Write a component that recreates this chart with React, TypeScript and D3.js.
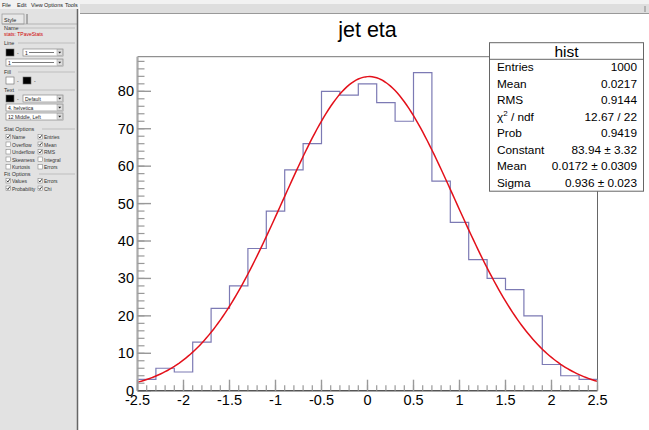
import React, { useEffect, useRef } from 'react';
import * as d3 from 'd3';

// histogram "hist" : jet eta, 25 bins in [-2.5, 2.5]
const binLow = -2.5;
const binHigh = 2.5;
const counts = [3, 6, 5, 13, 22, 28, 38, 48, 59, 66, 80, 79, 82, 77, 72, 85, 56, 45, 35, 30, 27, 20, 7, 4, 3];
const yTop = 89.25;

const xMajor = [-2.5, -2, -1.5, -1, -0.5, 0, 0.5, 1, 1.5, 2, 2.5];
const xLabels = ['-2.5', '-2', '-1.5', '-1', '-0.5', '0', '0.5', '1', '1.5', '2', '2.5'];
const yMajor = [0, 10, 20, 30, 40, 50, 60, 70, 80];

// gaus fit result
const fitConstant = 83.94;
const fitMean = 0.0172;
const fitSigma = 0.936;

const statLabels = ['Entries', 'Mean', 'RMS', 'chi2', 'Prob', 'Constant', 'Mean', 'Sigma'];
const statValues = ['1000', '0.0217', '0.9144', '12.67 / 22', '0.9419', '83.94 \u00b1 3.32', '0.0172 \u00b1 0.0309', '0.936 \u00b1 0.023'];

// editor side panel
const menuItems = [['File', 2], ['Edit', 17], ['View', 31], ['Options', 44], ['Tools', 65]];
const statChecks = [
  ['Name', true, 'Entries', true],
  ['Overflow', false, 'Mean', true],
  ['Underflow', false, 'RMS', true],
  ['Skewness', false, 'Integral', false],
  ['Kurtosis', false, 'Errors', false],
];
const fitChecks = [
  ['Values', true, 'Errors', true],
  ['Probability', true, 'Chi', true],
];

const font = 'Liberation Sans, Arial, Helvetica, sans-serif';

function SidePanel() {
  const grp = (label: string, y: number) => (
    <g key={label}>
      <text x={4} y={y} fontSize={5.5} fill="#333">{label}</text>
      <line x1={6 + label.length * 3} x2={75} y1={y - 2} y2={y - 2} stroke="#aaa" strokeWidth={0.6} />
    </g>
  );
  const combo = (x: number, y: number, w: number, label: string, dash: boolean) => (
    <g>
      <rect x={x} y={y} width={w} height={7} fill="#fff" stroke="#777" strokeWidth={0.6} />
      <text x={x + 2} y={y + 5.5} fontSize={5} fill="#222">{label}</text>
      {dash && <line x1={x + 6} x2={x + w - 9} y1={y + 3.5} y2={y + 3.5} stroke="#222" strokeWidth={0.6} />}
      <rect x={x + w - 6} y={y + 0.5} width={5.5} height={6} fill="#ddd" stroke="#888" strokeWidth={0.4} />
      <path d={`M${x + w - 4.8},${y + 2.8} L${x + w - 1.8},${y + 2.8} L${x + w - 3.3},${y + 4.6} Z`} fill="#222" />
    </g>
  );
  const swatch = (x: number, y: number, c: string) => (
    <rect x={x} y={y} width={8} height={7} fill={c} stroke="#666" strokeWidth={0.6} />
  );
  const check = (x: number, y: number, label: string, on: boolean) => (
    <g key={label + y}>
      <rect x={x} y={y - 4.5} width={4.5} height={4.5} fill="#fff" stroke="#777" strokeWidth={0.5} />
      {on && <path d={`M${x + 0.8},${y - 2.3} L${x + 1.9},${y - 1} L${x + 3.8},${y - 3.8}`} fill="none" stroke="#111" strokeWidth={0.8} />}
      <text x={x + 6} y={y} fontSize={5} fill="#333">{label}</text>
    </g>
  );
  return (
    <g fontFamily={font}>
      <rect x={0} y={0} width={78} height={430} fill="#e2e2e2" />
      <rect x={0} y={0} width={649} height={9} fill="#f2f2f2" />
      {menuItems.map(([t, x]) => (
        <text key={t as string} x={x as number} y={6.5} fontSize={5.5} fill="#222">{t}</text>
      ))}
      <rect x={2} y={14} width={22} height={10} fill="#e8e8e8" stroke="#888" strokeWidth={0.6} />
      <text x={4} y={21.5} fontSize={5.5} fill="#222">Style</text>
      <line x1={27} x2={27} y1={14} y2={24} stroke="#555" strokeWidth={0.8} />
      <line x1={2} x2={77} y1={24} y2={24} stroke="#999" strokeWidth={0.6} />
      {grp('Name', 30)}
      <text x={4} y={36} fontSize={5} fill="#d00000">stats: TPaveStats</text>
      {grp('Line', 45)}
      {swatch(6, 49, '#000')}
      <text x={17} y={55} fontSize={5} fill="#222">-</text>
      {combo(23, 49, 40, '1', true)}
      {combo(6, 59, 57, '1', true)}
      {grp('Fill', 74)}
      {swatch(6, 77, '#fff')}
      <text x={17} y={83} fontSize={5} fill="#222">-</text>
      {swatch(23, 77, '#000')}
      <text x={34} y={83} fontSize={5} fill="#222">-</text>
      {grp('Text', 92)}
      {swatch(6, 95, '#000')}
      <text x={17} y={101} fontSize={5} fill="#222">-</text>
      {combo(23, 95, 40, 'Default', false)}
      {combo(6, 104, 57, '4. helvetica', false)}
      {combo(6, 113, 57, '12 Middle, Left', false)}
      {grp('Stat Options', 131)}
      {statChecks.map((r, i) => (
        <g key={'s' + i}>
          {check(6, 139 + i * 7.5, r[0] as string, r[1] as boolean)}
          {check(38, 139 + i * 7.5, r[2] as string, r[3] as boolean)}
        </g>
      ))}
      {grp('Fit Options', 176)}
      {fitChecks.map((r, i) => (
        <g key={'f' + i}>
          {check(6, 183 + i * 7.5, r[0] as string, r[1] as boolean)}
          {check(38, 183 + i * 7.5, r[2] as string, r[3] as boolean)}
        </g>
      ))}
      <line x1={77.5} x2={77.5} y1={9} y2={430} stroke="#666" strokeWidth={1.5} />
      <rect x={80} y={4} width={569} height={9} fill="#dedede" />
      <line x1={80} x2={649} y1={13.5} y2={13.5} stroke="#999" strokeWidth={1} />
      <line x1={645} x2={645} y1={6} y2={12} stroke="#888" strokeWidth={1} />
    </g>
  );
}

export default function App() {
  const svgRef = useRef<SVGSVGElement | null>(null);

  useEffect(() => {
    const svg = d3.select(svgRef.current).select('g.chart');
    svg.selectAll('*').remove();

    const left = 137.5, right = 597.5, top = 56.7, bottom = 390.7;
    const x = d3.scaleLinear().domain([binLow, binHigh]).range([left, right]);
    const y = d3.scaleLinear().domain([0, yTop]).range([bottom, top]);
    const binW = (binHigh - binLow) / counts.length;

    // title
    svg.append('text')
      .attr('x', 367.5).attr('y', 37)
      .attr('text-anchor', 'middle')
      .attr('font-size', 21.5)
      .text('jet eta');

    // frame
    svg.append('line').attr('x1', left).attr('x2', right).attr('y1', top).attr('y2', top)
      .attr('stroke', '#777').attr('stroke-width', 1);
    svg.append('line').attr('x1', right).attr('x2', right).attr('y1', top).attr('y2', bottom)
      .attr('stroke', '#666').attr('stroke-width', 1);

    // histogram
    const pts: [number, number][] = counts.map((c, i) => [binLow + i * binW, c]);
    pts.push([binHigh, counts[counts.length - 1]]);
    const histLine = d3.line<[number, number]>()
      .x(d => x(d[0])).y(d => y(d[1]))
      .curve(d3.curveStepAfter);
    svg.append('path')
      .attr('d', histLine(pts))
      .attr('fill', 'none')
      .attr('stroke', '#7c7ab4')
      .attr('stroke-width', 1.2);

    // fit
    const fx = d3.range(0, 201).map(i => binLow + (binHigh - binLow) * i / 200);
    const fitLine = d3.line<number>()
      .x(d => x(d))
      .y(d => y(fitConstant * Math.exp(-0.5 * ((d - fitMean) / fitSigma) ** 2)))
      .curve(d3.curveLinear);
    svg.append('path')
      .attr('d', fitLine(fx))
      .attr('fill', 'none')
      .attr('stroke', '#e3101a')
      .attr('stroke-width', 1.5);

    // y axis
    svg.append('line').attr('x1', left).attr('x2', left).attr('y1', top).attr('y2', bottom)
      .attr('stroke', '#aaa').attr('stroke-width', 2.2);
    const yMinor = d3.range(0, yTop, 2);
    svg.selectAll('.ymin').data(yMinor).enter().append('line')
      .attr('x1', left).attr('x2', left + 7)
      .attr('y1', d => y(d)).attr('y2', d => y(d))
      .attr('stroke', '#999').attr('stroke-width', 1.2);
    svg.selectAll('.ymaj').data(yMajor).enter().append('line')
      .attr('x1', left).attr('x2', left + 13.5)
      .attr('y1', d => y(d)).attr('y2', d => y(d))
      .attr('stroke', '#999').attr('stroke-width', 1.4);
    svg.selectAll('.ylab').data(yMajor).enter().append('text')
      .attr('x', left - 3.5).attr('y', d => y(d) + 5)
      .attr('text-anchor', 'end')
      .attr('font-size', 14.5)
      .text(d => String(d));

    // x axis
    svg.append('line').attr('x1', left).attr('x2', right).attr('y1', bottom).attr('y2', bottom)
      .attr('stroke', '#555').attr('stroke-width', 1.6);
    const xMinor = d3.range(0, 51).map(i => binLow + i * 0.1);
    svg.selectAll('.xmin').data(xMinor).enter().append('line')
      .attr('x1', d => x(d)).attr('x2', d => x(d))
      .attr('y1', bottom).attr('y2', bottom - 5.5)
      .attr('stroke', '#999').attr('stroke-width', 1.2);
    svg.selectAll('.xmaj').data(xMajor).enter().append('line')
      .attr('x1', d => x(d)).attr('x2', d => x(d))
      .attr('y1', bottom).attr('y2', bottom - 11)
      .attr('stroke', '#999').attr('stroke-width', 1.4);
    svg.selectAll('.xlab').data(xMajor).enter().append('text')
      .attr('x', d => x(d)).attr('y', bottom + 14.5)
      .attr('text-anchor', 'middle')
      .attr('font-size', 14.5)
      .text((d, i) => xLabels[i]);

    // stats box
    const bx = 489.5, by = 42.7, bw = 154, bh = 148.5;
    const box = svg.append('g');
    box.append('rect').attr('x', bx).attr('y', by).attr('width', bw).attr('height', bh)
      .attr('fill', '#fff').attr('stroke', '#666').attr('stroke-width', 1);
    box.append('line').attr('x1', bx).attr('x2', bx + bw).attr('y1', 59.3).attr('y2', 59.3)
      .attr('stroke', '#666').attr('stroke-width', 1);
    box.append('text').attr('x', bx + bw / 2).attr('y', 56.5)
      .attr('text-anchor', 'middle').attr('font-size', 15.5).text('hist');
    statLabels.forEach((lab, i) => {
      const yy = 71 + i * 16.57;
      const t = box.append('text').attr('x', 497).attr('y', yy).attr('font-size', 11.8);
      if (lab === 'chi2') {
        t.append('tspan').text('\u03c7');
        t.append('tspan').attr('font-size', 8).attr('dy', -5).text('2');
        t.append('tspan').attr('dy', 5).text(' / ndf');
      } else {
        t.text(lab);
      }
      box.append('text').attr('x', 637).attr('y', yy)
        .attr('text-anchor', 'end').attr('font-size', 11.8).text(statValues[i]);
    });
  }, []);

  return (
    <div style={{ position: 'fixed', left: 0, top: 0, width: 649, height: 430, background: '#fff' }}>
      <svg ref={svgRef} width={649} height={430} style={{ display: 'block' }}>
        <rect x={0} y={0} width={649} height={430} fill="#fff" />
        <SidePanel />
        <g className="chart" fontFamily={font} fill="#000" />
      </svg>
    </div>
  );
}
